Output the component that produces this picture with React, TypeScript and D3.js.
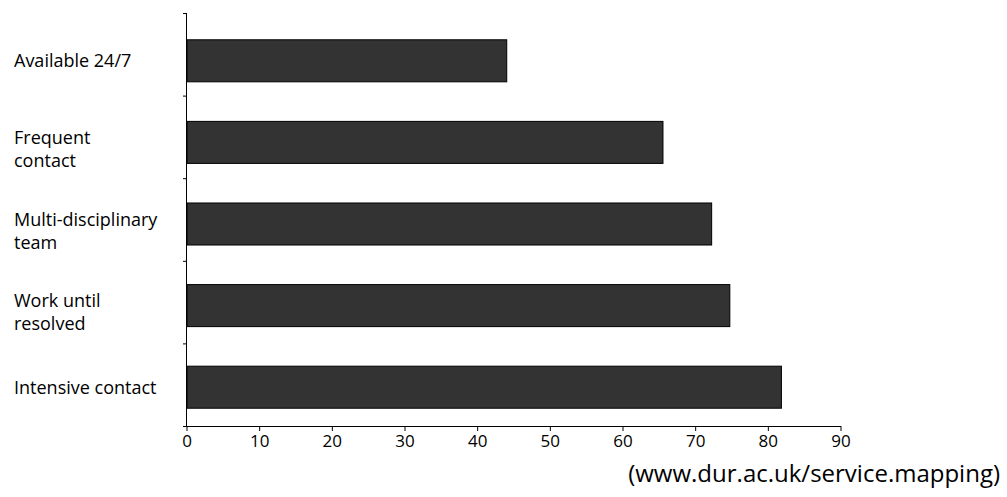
import React from "react";
import * as d3 from "d3";

const categories = [
  "Available 24/7",
  "Frequent contact",
  "Multi-disciplinary team",
  "Work until resolved",
  "Intensive contact",
];
const labelLines = [
  ["Available 24/7"],
  ["Frequent", "contact"],
  ["Multi-disciplinary", "team"],
  ["Work until", "resolved"],
  ["Intensive contact"],
];
const values = [44, 65.5, 72.2, 74.7, 81.8];
const xTicks = [0, 10, 20, 30, 40, 50, 60, 70, 80, 90];
const sourceText = "(www.dur.ac.uk/service.mapping)";

export default function App() {
  const W = 1007;
  const H = 497;
  const x0 = 187;
  const x1 = 841;
  const axisTop = 13;
  const axisY = 426;
  const x = d3.scaleLinear().domain([0, 90]).range([x0, x1]);
  const y = d3.scaleBand<string>().domain(categories).range([20, 428]).paddingInner(0.485).paddingOuter(0.2425);
  const bounds = d3.scaleBand<string>().domain(categories).range([axisTop, axisY]);
  const font = "'Open Sans', sans-serif";
  return (
    <svg width={W} height={H} style={{ position: "absolute", left: 0, top: 0, background: "#fff" }}>
      {categories.map((c, i) => (
        <rect
          key={c}
          x={x(0)}
          y={y(c)!}
          width={x(values[i]) - x(0)}
          height={y.bandwidth()}
          fill="#333333"
          stroke="#000"
          strokeWidth={1}
        />
      ))}
      <line x1={x0 - 0.5} x2={x0 - 0.5} y1={axisTop} y2={axisY} stroke="#000" strokeWidth={1} />
      {categories.map((c) => (
        <line key={"t" + c} x1={x0 - 4} x2={x0} y1={bounds(c)! + 0.5} y2={bounds(c)! + 0.5} stroke="#000" />
      ))}
      <line x1={x0 - 4} x2={x1} y1={axisY + 0.5} y2={axisY + 0.5} stroke="#000" />
      {xTicks.map((t) => (
        <g key={t}>
          <line x1={x(t)} x2={x(t)} y1={axisY} y2={axisY + 5} stroke="#000" />
          <text x={x(t)} y={axisY + 21} textAnchor="middle" fontFamily={font} fontSize={17} fill="#000">
            {t}
          </text>
        </g>
      ))}
      {categories.map((c, i) => {
        const cy = y(c)! + y.bandwidth() / 2;
        const lines = labelLines[i];
        const lh = 23;
        const first = lines.length === 1 ? cy + 6.5 : cy + 1.5;
        return (
          <text key={"l" + c} x={14} fontFamily={font} fontSize={18} fill="#000">
            {lines.map((ln, j) => (
              <tspan key={j} x={14} y={first + j * lh}>
                {ln}
              </tspan>
            ))}
          </text>
        );
      })}
      <text x={1000} y={482} textAnchor="end" fontFamily={font} fontSize={24} fill="#000">
        {sourceText}
      </text>
    </svg>
  );
}
